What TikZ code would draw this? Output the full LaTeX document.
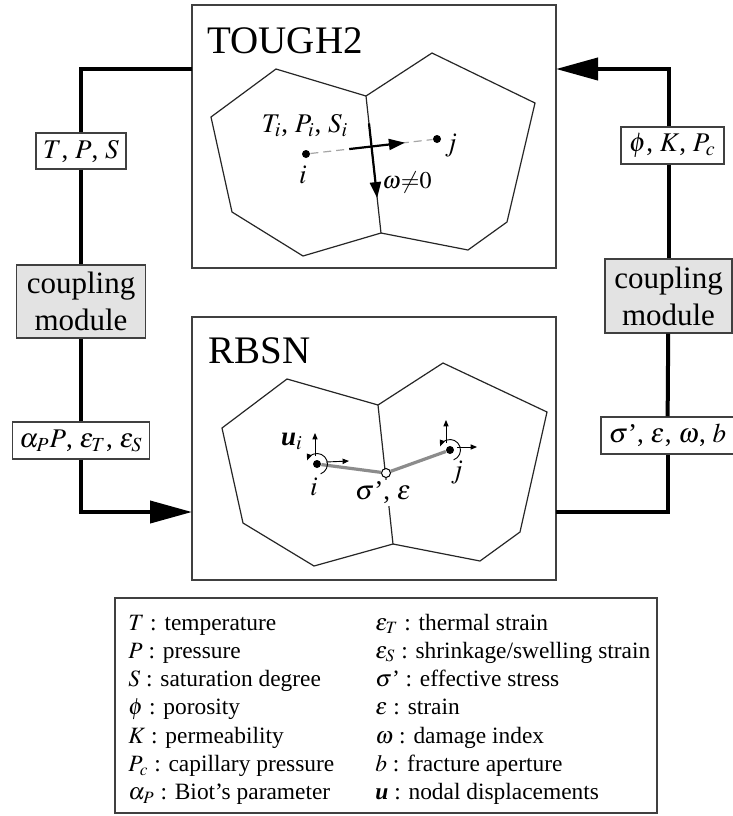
\documentclass[tikz,border=0pt]{standalone}
\usepackage{mathptmx}
\usepackage{fontspec}
\setmainfont{Liberation Serif}
\usetikzlibrary{arrows.meta,calc}
\newcommand\myfs[2]{\fontsize{#1}{#2}\selectfont}
\begin{document}
\begin{tikzpicture}[x=0.5pt,y=-0.5pt,
  panel/.style={draw=black!75, line width=0.9pt, fill=white, inner sep=0pt, minimum width=182pt, minimum height=131.5pt},
  cell/.style={draw=black!85, line width=0.6pt, line join=miter},
  loopline/.style={draw=black, line width=2pt},
  bigtip/.style={-{Triangle[length=21pt,width=11pt]}},
  tagbox/.style={draw=black!75, line width=0.7pt, fill=white, inner sep=0pt, font=\myfs{13.5}{16}},
  cplbox/.style={draw=black!75, line width=0.7pt, fill=black!11, inner sep=0pt, align=center, font=\myfs{15.5}{18.5}},
  lbl/.style={inner sep=0pt, font=\myfs{13.5}{16}},
  dot/.style={circle, fill=black, inner sep=0pt, minimum size=4pt},
  hollow/.style={circle, draw=black, fill=white, line width=0.5pt, inner sep=0pt, minimum size=4.5pt},
  thickarrow/.style={line width=1.1pt, -{Triangle[length=8pt,width=5.5pt]}},
  smallarrow/.style={line width=0.45pt, -{Triangle[length=3.2pt,width=2.6pt]}},
  legtext/.style={inner sep=0pt, anchor=base west, font=\myfs{11.7}{14}},
  title/.style={inner sep=0pt, anchor=base west, font=\myfs{19.5}{23}}
]
\useasboundingbox (0,0) rectangle (733,816);

% panels
\node[panel] (tough) at (374,136.5) {};
\node[panel] (rbsn) at (374,448.5) {};
\node[title] (toughT) at (207,53) {TOUGH2};
\node[title] (rbsnT) at (208,363) {RBSN};

% TOUGH2 cells
\draw[cell] (276,69) -- (366,96) -- (381,233) -- (303,256) -- (232,212) -- (211,117) -- cycle;
\draw[cell] (366,96) -- (432,53) -- (535,103) -- (507,222) -- (468,250) -- (381,233);
\coordinate (e1) at (366,96);
\coordinate (e2) at (381,233);
\node[dot] (ti) at (306,154) {};
\node[dot] (tj) at (437,139) {};
\draw[black!35, line width=0.6pt, dash pattern=on 4pt off 2.5pt] (ti) -- (tj);
\draw[thickarrow] ($(ti)!0.33!(tj)$) -- ($(ti)!0.755!(tj)$);
\draw[thickarrow] ($(e1)!0.2!(e2)$) -- ($(e1)!0.745!(e2)$);
\node[lbl, anchor=base] (tlab) at (305,132) {$T_i$, $P_i$, $S_i$};
\node[lbl] (til) at (303,175) {$i$};
\node[lbl] (tjl) at (451,146) {$j$};
\node[lbl, anchor=west, font=\myfs{12}{14}] (om) at (382,182) {$\omega{\neq}0$};

% RBSN cells
\draw[cell] (287,379) -- (378,405) -- (393,544) -- (314,566) -- (243,523) -- (222,428) -- cycle;
\draw[cell] (378,405) -- (443,363) -- (547,412) -- (520,532) -- (480,561) -- (393,544);
\node[lbl, fill=white, inner sep=1pt] (sl) at (383,493) {$\sigma$’, $\varepsilon$};
\node[dot] (ri) at (317,464) {};
\node[dot] (rj) at (450,450) {};
\node[hollow] (rc) at (386,473) {};
\draw[black!45, line width=1.6pt] (ri) -- (rc);
\draw[black!45, line width=1.6pt] (rc) -- (rj);
\draw[smallarrow] ($(ri)+(-2,-8)$) -- ($(ri)+(-2,-31)$);
\draw[smallarrow] ($(ri)+(9,-2)$) -- ($(ri)+(32,-3)$);
\draw[smallarrow] ($(ri)+(70:10.5)$) arc[start angle=70, end angle=-160, radius=10.5];
\draw[smallarrow] ($(rj)+(-4,-7)$) -- ($(rj)+(-4,-30)$);
\draw[smallarrow] ($(rj)+(7,-3)$) -- ($(rj)+(27,-3)$);
\draw[smallarrow] ($(rj)+(70:10.5)$) arc[start angle=70, end angle=-160, radius=10.5];
\node[lbl] (ui) at (292,441) {{\bfseries\itshape u}$_i$};
\node[lbl] (ril) at (314,487) {$i$};
\node[lbl] (rjl) at (457,473) {$j$};

% loop coordinates
\coordinate (tin) at (192,69);
\coordinate (tout) at (556,69);
\coordinate (rin) at (192,512);
\coordinate (rout) at (556,512);

% left side boxes
\node[tagbox, minimum width=45pt, minimum height=18pt] (tps) at (81,151) {$T$, $P$, $S$};
\node[cplbox, minimum width=64.5pt, minimum height=36.5pt] (cml) at (81,301.5) {coupling\\module};
\node[tagbox, minimum width=68.5pt, minimum height=18.5pt] (ap) at (81,440.5) {$\alpha_P P$, $\varepsilon_T$, $\varepsilon_S$};

% right side boxes
\node[tagbox, minimum width=51.5pt, minimum height=18.5pt] (phk) at (672.5,145.5) {$\phi$, $K$, $P_c$};
\node[cplbox, minimum width=63.5pt, minimum height=37pt] (cmr) at (668.5,296) {coupling\\module};
\node[tagbox, minimum width=66.5pt, minimum height=18.5pt] (sig) at (667.5,435.5) {$\sigma$’, $\varepsilon$, $\omega$, $b$};

% left loop
\draw[loopline] (tin) -| (tps.north);
\draw[loopline] (tps) -- (cml);
\draw[loopline] (cml) -- (ap);
\draw[loopline, bigtip] (ap.south) |- (rin);

% right loop
\draw[loopline] (rout) -| (sig.south);
\draw[loopline] (sig) -- (cmr);
\draw[loopline] (cmr.north) -- (cmr.north |- phk.south);
\draw[loopline, bigtip] (cmr.north |- phk.north) |- (tout);

% legend
\node[draw=black!75, line width=0.9pt, inner sep=0pt, minimum width=271pt, minimum height=107.5pt] (leg) at (386,705.5) {};
\node[legtext] (l1) at (128,630) {$T$ : temperature};
\node[legtext] (l2) at (128,658.3) {$P$ : pressure};
\node[legtext] (l3) at (128,686.6) {$S$ : saturation degree};
\node[legtext] (l4) at (128,714.9) {$\phi$ : porosity};
\node[legtext] (l5) at (128,743.2) {$K$ : permeability};
\node[legtext] (l6) at (128,771.5) {$P_c$ : capillary pressure};
\node[legtext] (l7) at (128,799.8) {$\alpha_P$ : Biot’s parameter};
\node[legtext] (r1) at (375,630) {$\varepsilon_T$ : thermal strain};
\node[legtext] (r2) at (375,658.3) {$\varepsilon_S$ : shrinkage/swelling strain};
\node[legtext] (r3) at (375,686.6) {$\sigma$’ : effective stress};
\node[legtext] (r4) at (375,714.9) {$\varepsilon$ : strain};
\node[legtext] (r5) at (375,743.2) {$\omega$ : damage index};
\node[legtext] (r6) at (375,771.5) {$b$ : fracture aperture};
\node[legtext] (r7) at (375,799.8) {{\bfseries\itshape u} : nodal displacements};
\end{tikzpicture}
\end{document}
